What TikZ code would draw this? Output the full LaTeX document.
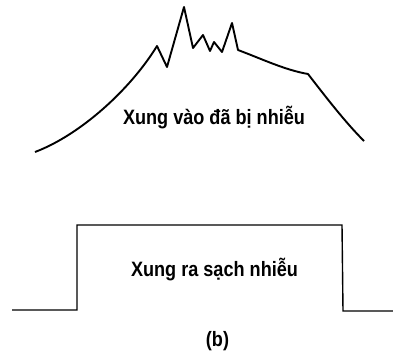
\documentclass[tikz,border=0pt]{standalone}
\usepackage{fontspec}
\setmainfont{Liberation Sans}
\newfontfamily\pulsefont[FakeStretch=0.87]{Liberation Sans Bold}
\usepackage{tikz}
\usetikzlibrary{calc}

\tikzset{
  pulse/.style={line width=1.9pt,line join=round},
  squarepulse/.style={line width=1.4pt,line join=miter},
  pulselabel/.style={font=\pulsefont\fontsize{20.8}{24}\selectfont,inner sep=0pt,anchor=base}
}

\begin{document}
\begin{tikzpicture}[x=1pt,y=-1pt]
\useasboundingbox (0,0) rectangle (393,354);
% Noisy input pulse
\draw[pulse]
  (35,152) .. controls (80,135) and (130,90) .. (157,46)
  -- (167,67) -- (184,7) -- (193,48) -- (203,35) -- (210,51)
  -- (214,42) -- (222,52) -- (232,23) -- (238,50)
  .. controls (262,59) and (285,70) .. (308,74)
  .. controls (325,96) and (345,122) .. (364,141);
\node[pulselabel] (noisy) at (214,124) {Xung vào đã bị nhiễu};

% Clean output pulse
\draw[squarepulse]
  (12,310) -- (77,310) -- (77,225) -- (342,225) -- (343,311) -- (393,311);
\node[pulselabel] (clean) at (214.5,276) {Xung ra sạch nhiễu};

% Caption
\node[pulselabel] (caption) at (217.5,346.5) {(b)};
\end{tikzpicture}
\end{document}
